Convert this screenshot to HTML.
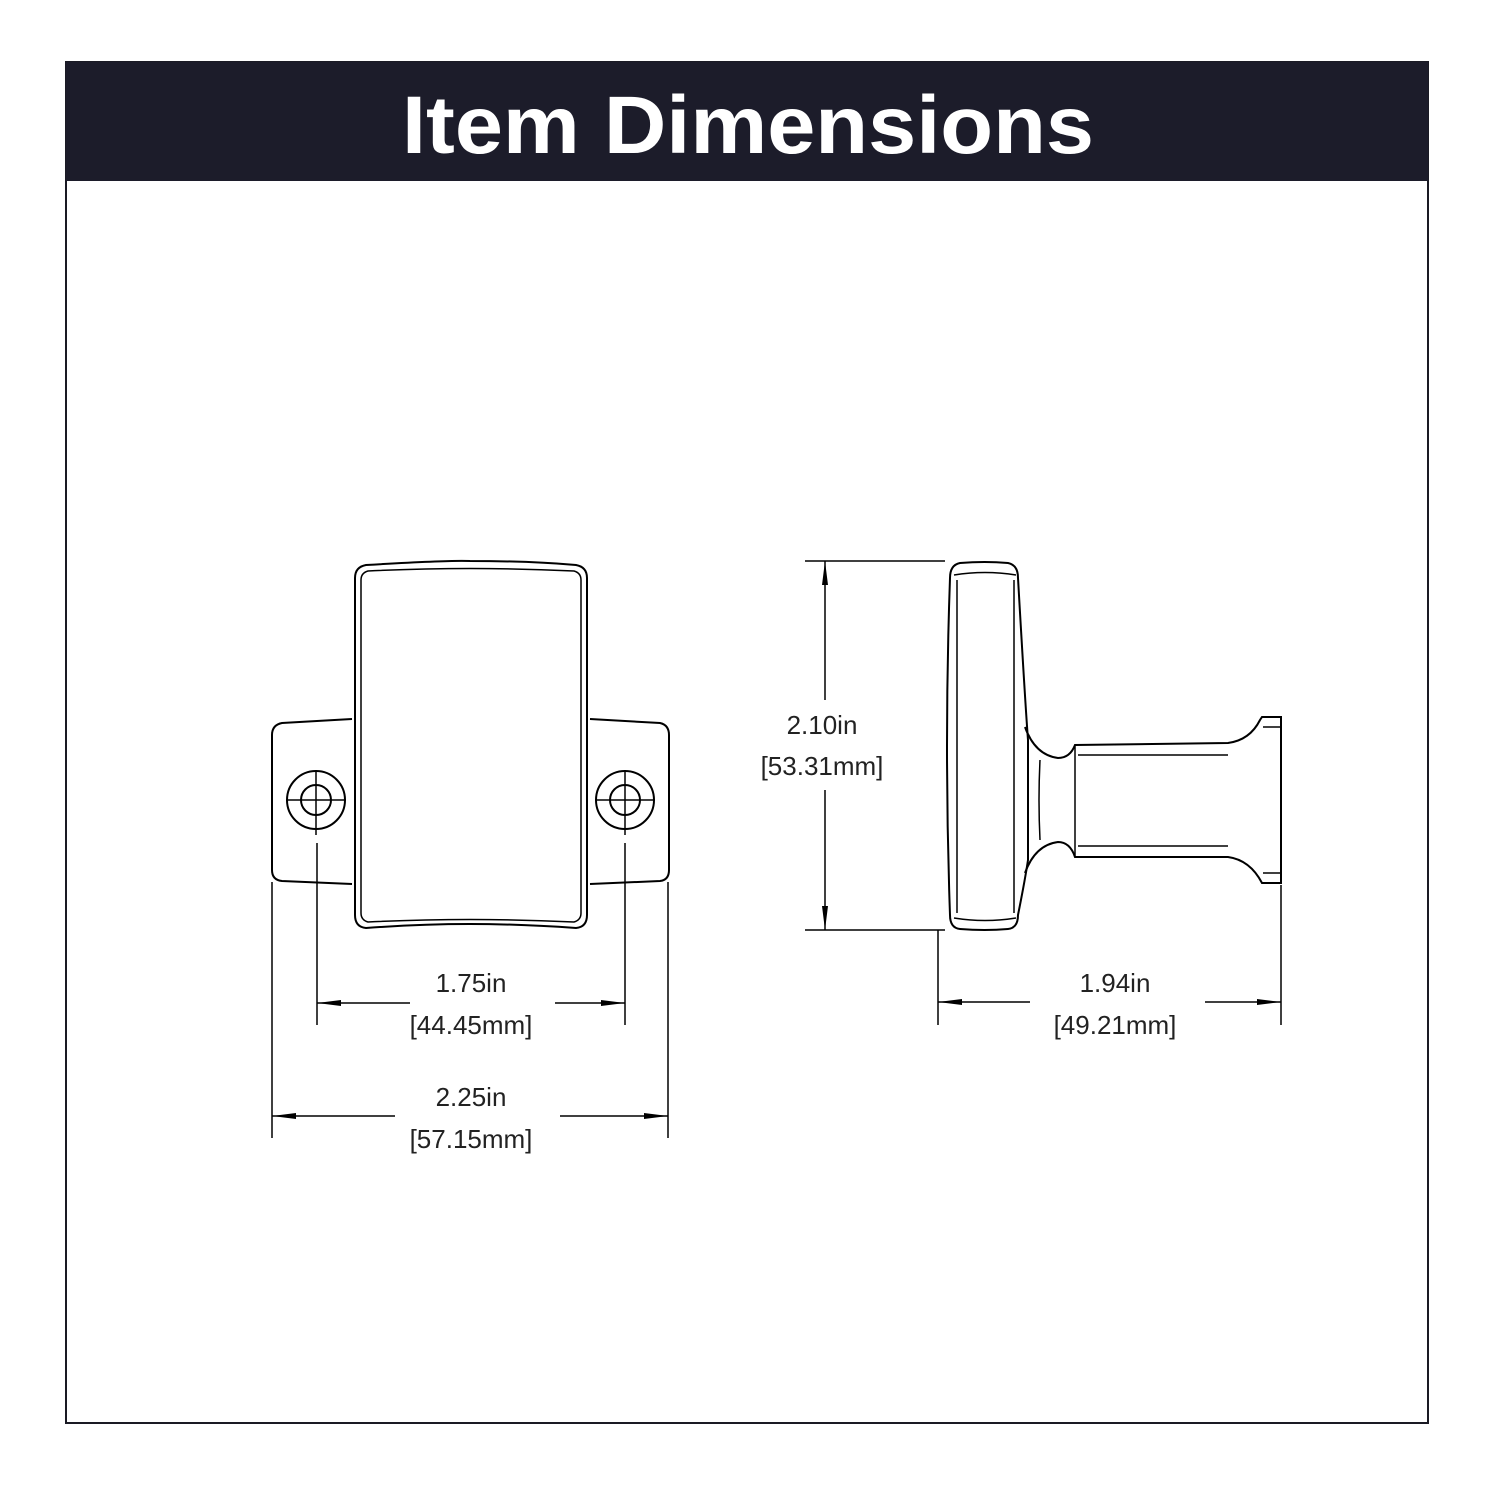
<!DOCTYPE html>
<html><head><style>
body{margin:0;background:#fff;}
svg{display:block}
text{font-family:"Liberation Sans",sans-serif;}
</style></head><body>
<svg width="1500" height="1500" viewBox="0 0 1500 1500">
<rect x="66" y="62" width="1362" height="1361" fill="#fff" stroke="#1a1a24" stroke-width="2"/>
<rect x="66" y="62" width="1362" height="119" fill="#1c1c2a"/>
<text x="748" y="153" text-anchor="middle" fill="#fff" font-size="82" font-weight="bold" textLength="692" lengthAdjust="spacingAndGlyphs">Item Dimensions</text>
<defs><marker id="a" markerWidth="24" markerHeight="8" refX="0" refY="4" orient="auto" markerUnits="userSpaceOnUse"><path d="M0,4 L24,1 L24,7 Z" fill="#000"/></marker></defs>
<g fill="none" stroke="#000" stroke-width="2">
<!-- front view -->
<path d="M366,565 Q450,560 470,561 Q530,561 576,565 Q587,567 587,578 L587,915 Q587,927 576,928 Q520,924 470,924 Q420,924 366,928 Q355,927 355,915 L355,578 Q355,567 366,565 Z"/>
<path d="M368,571 Q470,566 574,571 Q581,573 581,580 L581,913 Q581,920 574,922 Q470,917 368,922 Q361,920 361,913 L361,580 Q361,573 368,571 Z" stroke-width="1.5"/>
<path d="M352,719 L282,723 Q272,725 272,735 L272,870 Q272,880 282,881 L352,884"/>
<path d="M590,719 L660,723 Q669,725 669,735 L669,870 Q669,880 660,881 L590,884"/>
<circle cx="316" cy="800" r="29"/><circle cx="316" cy="800" r="15"/>
<circle cx="625" cy="800" r="29"/><circle cx="625" cy="800" r="15"/>
<path d="M286,800H346M316,770V835M595,800H655M625,770V835" stroke-width="1.5"/>
<!-- side view -->
<path d="M960,563 Q985,561 1008,563 Q1018,565 1018,578 Q1025,700 1028,740 L1028,860 Q1025,880 1018,915 Q1018,928 1008,929 Q985,931 960,929 Q950,928 950,915 Q944,746 950,578 Q950,565 960,563 Z"/>
<path d="M954,575 Q985,570 1016,575 M954,918 Q985,923 1016,918 M957,580 V913 M1014,580 V913" stroke-width="1.5"/>
<path d="M1025,727 Q1035,755 1058,758 Q1070,758 1075,745 L1228,743 Q1250,740 1260,720 L1262,717 H1281 V883 H1262 Q1250,860 1228,857 L1075,857 Q1070,842 1058,842 Q1035,845 1025,873"/>
<path d="M1075,745 V857 M1078,755 H1228 M1078,846 H1228 M1263,727 H1281 M1263,873 H1281 M1040,760 Q1038,800 1040,840" stroke-width="1.5"/>
<!-- dimensions -->
<g stroke-width="1.5">
<path d="M317,843V1025 M625,843V1025 M272,882V1138 M668,882V1138"/>
<path d="M805,561H945 M805,930H945 M938,930V1025 M1281,885V1025"/>
<path d="M317,1003H410" marker-start="url(#a)"/>
<path d="M625,1003H555" marker-start="url(#a)"/>
<path d="M272,1116H395" marker-start="url(#a)"/>
<path d="M668,1116H560" marker-start="url(#a)"/>
<path d="M825,561V700" marker-start="url(#a)"/>
<path d="M825,930V790" marker-start="url(#a)"/>
<path d="M938,1002H1030" marker-start="url(#a)"/>
<path d="M1281,1002H1205" marker-start="url(#a)"/>
</g>
</g>
<g font-size="26" fill="#222" text-anchor="middle">
<text x="471" y="992">1.75in</text><text x="471" y="1034">[44.45mm]</text>
<text x="471" y="1106">2.25in</text><text x="471" y="1148">[57.15mm]</text>
<text x="822" y="734">2.10in</text><text x="822" y="775">[53.31mm]</text>
<text x="1115" y="992">1.94in</text><text x="1115" y="1034">[49.21mm]</text>
</g>
</svg>
</body></html>
